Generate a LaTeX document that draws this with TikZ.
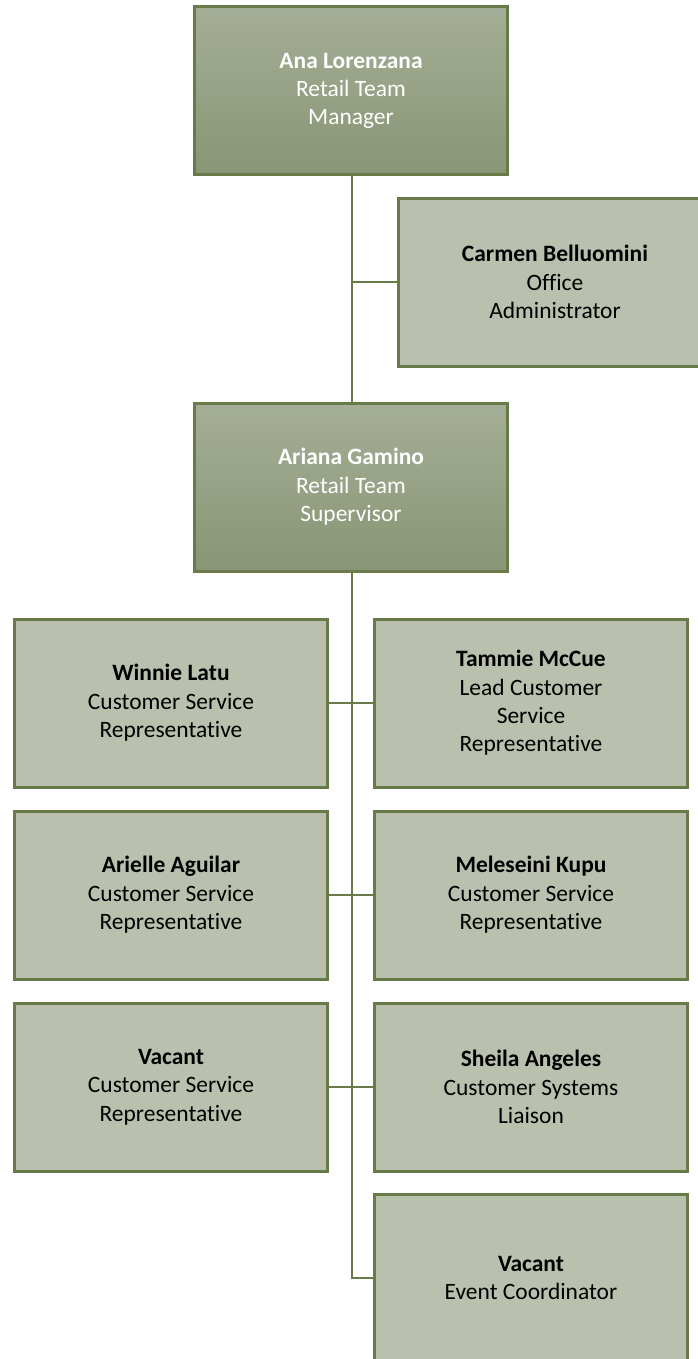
\documentclass[tikz,border=0pt]{standalone}
\usepackage{fontspec}
\setmainfont{Carlito}[Ligatures={NoCommon,NoRequired,NoContextual}]
\definecolor{boxfill}{RGB}{185,193,174}
\definecolor{boxline}{RGB}{103,122,72}
\definecolor{toptop}{RGB}{165,174,150}
\definecolor{topbot}{RGB}{137,149,117}
\tikzset{
  person/.style={draw=boxline, line width=2.25pt, fill=boxfill, minimum width=234.75pt, minimum height=126pt, align=center, inner sep=0pt, text=black, font=\fontsize{17.6}{21.3}\selectfont},
  boss/.style={person, top color=toptop, bottom color=topbot, text=white},
  link/.style={draw=boxline, line width=1.5pt}
}
\begin{document}
\begin{tikzpicture}[x=0.75pt,y=-0.75pt]
\useasboundingbox (0,0) rectangle (697,1359);
\node[boss] (ana) at (351,91) {\textbf{Ana Lorenzana}\\Retail Team\\Manager};
\node[person] (carmen) at (555,282) {\textbf{Carmen Belluomini}\\Office\\Administrator};
\node[boss] (ariana) at (351,487) {\textbf{Ariana Gamino}\\Retail Team\\Supervisor};
\node[person] (winnie) at (171,703) {\textbf{Winnie Latu}\\Customer Service\\Representative};
\node[person] (tammie) at (531,703) {\textbf{Tammie McCue}\\Lead Customer\\Service\\Representative};
\node[person] (arielle) at (171,895) {\textbf{Arielle Aguilar}\\Customer Service\\Representative};
\node[person] (meleseini) at (531,895) {\textbf{Meleseini Kupu}\\Customer Service\\Representative};
\node[person] (vacantA) at (171,1087) {\textbf{Vacant}\\Customer Service\\Representative};
\node[person] (sheila) at (531,1087) {\textbf{Sheila Angeles}\\Customer Systems\\Liaison};
\node[person] (vacantB) at (531,1278) {\textbf{Vacant}\\Event Coordinator};
\coordinate (trunk) at (352,0);
\coordinate (bend) at (trunk |- vacantB.west);
\draw[link] (ana.south -| trunk) -- (ariana.north -| trunk);
\draw[link] (trunk |- carmen.west) -- (carmen.west);
\draw[link] (ariana.south -| trunk) -- (bend) -- (vacantB.west);
\draw[link] (winnie.east) -- (tammie.west);
\draw[link] (arielle.east) -- (meleseini.west);
\draw[link] (vacantA.east) -- (sheila.west);
\end{tikzpicture}
\end{document}
